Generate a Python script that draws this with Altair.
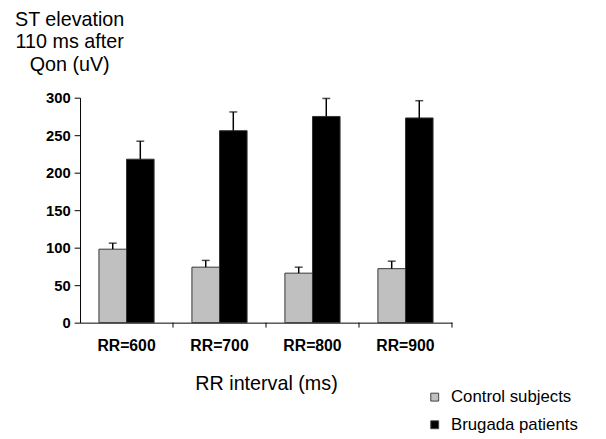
import altair as alt
import pandas as pd

categories = ["RR=600", "RR=700", "RR=800", "RR=900"]
groups = ["Control subjects", "Brugada patients"]
control_values = [98, 74, 66, 72]
control_errors = [8, 9, 8, 10]
brugada_values = [218, 256, 275, 273]
brugada_errors = [24, 25, 24, 23]

rows = []
for i, c in enumerate(categories):
    rows.append({"cat": c, "group": groups[0], "value": control_values[i],
                 "upper": control_values[i] + control_errors[i]})
    rows.append({"cat": c, "group": groups[1], "value": brugada_values[i],
                 "upper": brugada_values[i] + brugada_errors[i]})
df = pd.DataFrame(rows)
cat_df = pd.DataFrame({"cat": categories})

FONT = "Liberation Sans"
W, H = 377, 228

x_axis = alt.Axis(
    title="RR interval (ms)", ticks=False, labelPadding=15, labelAngle=0,
    labelFont=FONT, labelFontSize=16, labelFontWeight="bold", labelColor="black",
    titleFont=FONT, titleFontSize=20, titleFontWeight="normal", titleColor="black",
    titleX=W / 2, titleY=68, titleAlign="center", titleBaseline="alphabetic",
    domainColor="black", grid=False,
)
x_scale = alt.Scale(paddingInner=0, paddingOuter=0)
xoff = alt.XOffset("group:N", sort=groups,
                   scale=alt.Scale(paddingInner=0, paddingOuter=0.686))

y_scale = alt.Scale(domain=[0, 300], nice=False)
y_axis = alt.Axis(
    title=["ST elevation", "110 ms after", "Qon (uV)"],
    values=[0, 50, 100, 150, 200, 250, 300], labelOverlap=False,
    tickSize=6, labelPadding=4, grid=False,
    labelFont=FONT, labelFontSize=15, labelFontWeight="bold", labelColor="black",
    titleFont=FONT, titleFontSize=20, titleFontWeight="normal", titleColor="black",
    titleAngle=0, titleX=-11, titleY=-73, titleAlign="center",
    titleBaseline="alphabetic", titleLineHeight=22.5,
    domainColor="black", tickColor="black",
)

bars = alt.Chart(df).mark_bar(stroke="#333333", strokeWidth=1).encode(
    x=alt.X("cat:N", sort=categories, scale=x_scale, axis=x_axis),
    xOffset=xoff,
    y=alt.Y("value:Q", scale=y_scale, axis=y_axis),
    color=alt.Color("group:N", sort=groups,
                    scale=alt.Scale(domain=groups, range=["#c0c0c0", "#000000"]),
                    legend=alt.Legend(
                        title=None, orient="none", legendX=351, legendY=295,
                        symbolType="square", symbolSize=64,
                        symbolStrokeColor="#404040", symbolStrokeWidth=1,
                        labelFont=FONT, labelFontSize=17, labelColor="black",
                        labelOffset=8, rowPadding=10, padding=0,
                    )),
)

err = alt.Chart(df).mark_rule(color="black", strokeWidth=1.5).encode(
    x=alt.X("cat:N", sort=categories, scale=x_scale, axis=x_axis),
    xOffset=xoff,
    y=alt.Y("value:Q", scale=y_scale, axis=y_axis),
    y2="upper:Q",
)

caps = alt.Chart(df).mark_tick(color="black", thickness=1.5, size=8).encode(
    x=alt.X("cat:N", sort=categories, scale=x_scale, axis=x_axis),
    xOffset=xoff,
    y=alt.Y("upper:Q", scale=y_scale, axis=y_axis),
)

xticks = alt.Chart(cat_df).mark_rule(color="black", strokeWidth=1).encode(
    x=alt.X("cat:N", sort=categories, bandPosition=1, scale=x_scale, axis=x_axis),
    y=alt.value(H),
    y2=alt.value(H + 5),
)

chart = alt.layer(bars, err, caps, xticks).properties(
    width=W, height=H,
    autosize=alt.AutoSizeParams(type="none"),
    padding={"left": 73, "top": 88, "right": 148, "bottom": 115},
    background="white",
).configure_view(strokeWidth=0, stroke="transparent")

chart.save("out.html", embed_options={"renderer": "svg", "actions": False})
